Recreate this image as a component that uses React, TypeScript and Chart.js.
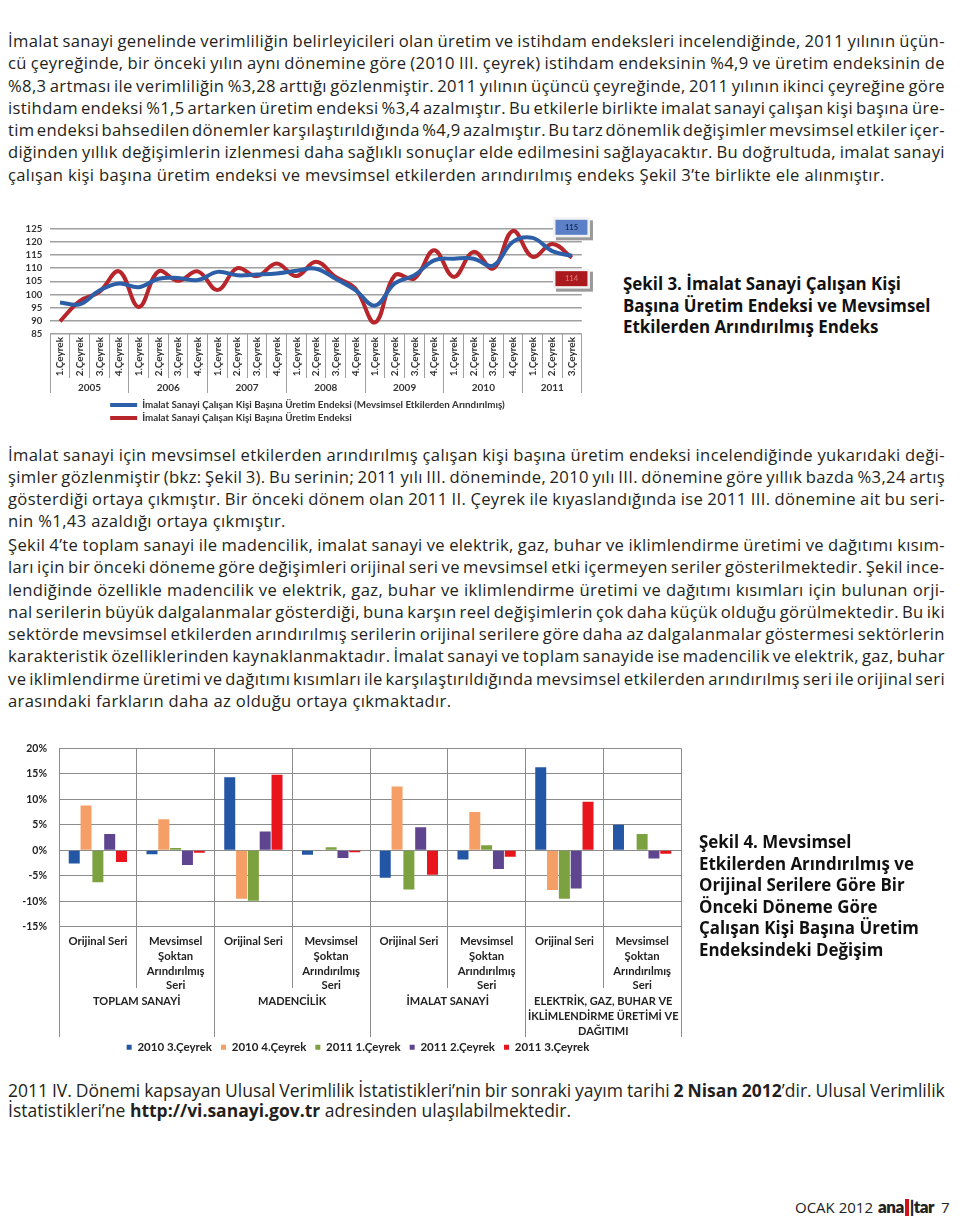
import React, { useEffect, useRef } from "react";
import { Chart, registerables } from "chart.js";
Chart.register(...registerables);

const FONT = "Lato, 'Noto Sans', sans-serif";
const BODY_FONT = "'Open Sans', 'Noto Sans', sans-serif";
const TEXT = "#231f20";

// ---------- Chart 1 data (Şekil 3) ----------
const years1 = ["2005", "2006", "2007", "2008", "2009", "2010", "2011"];
const quarterNames = ["1.Çeyrek", "2.Çeyrek", "3.Çeyrek", "4.Çeyrek"];
const quartersPerYear = [4, 4, 4, 4, 4, 4, 3];
const xLabels1 = years1.flatMap((_, i) => quarterNames.slice(0, quartersPerYear[i]));
const seasonallyAdjusted = [
  97, 96.3, 101.5, 104.2,
  102.8, 106, 106.3, 105.5,
  108.6, 107.3, 107.6, 108,
  109, 109.8, 106, 101.7,
  95.8, 104.2, 107.3, 113,
  113.6, 113.6, 111, 120,
  121.5, 116.5, 114.7,
];
const rawIndex = [
  89.8, 97.5, 101, 108.8,
  95.3, 108.8, 105.2, 108.8,
  101.7, 110, 107, 111.8,
  107, 112.4, 106.7, 102.3,
  89.4, 107.3, 106.1, 116.8,
  106.7, 116.2, 109.9, 124.2,
  114.3, 119.2, 114,
];
const legend1 = [
  "İmalat Sanayi Çalışan Kişi Başına Üretim Endeksi (Mevsimsel Etkilerden Arındırılmış)",
  "İmalat Sanayi Çalışan Kişi Başına Üretim Endeksi",
];
const colors1 = ["#2c5fa8", "#b8252a"];

// ---------- Chart 2 data (Şekil 4) ----------
const categories2 = [
  ["Orijinal Seri"], ["Mevsimsel", "Şoktan", "Arındırılmış", "Seri"],
  ["Orijinal Seri"], ["Mevsimsel", "Şoktan", "Arındırılmış", "Seri"],
  ["Orijinal Seri"], ["Mevsimsel", "Şoktan", "Arındırılmış", "Seri"],
  ["Orijinal Seri"], ["Mevsimsel", "Şoktan", "Arındırılmış", "Seri"],
];
const groups2 = [
  ["TOPLAM SANAYİ"],
  ["MADENCİLİK"],
  ["İMALAT SANAYİ"],
  ["ELEKTRİK, GAZ, BUHAR VE", "İKLİMLENDİRME ÜRETİMİ VE", "DAĞITIMI"],
];
const seriesNames2 = ["2010 3.Çeyrek", "2010 4.Çeyrek", "2011 1.Çeyrek", "2011 2.Çeyrek", "2011 3.Çeyrek"];
const q2010_3 = [-2.6, -0.8, 14.3, -0.9, -5.4, -1.8, 16.3, 5.0];
const q2010_4 = [8.8, 6.1, -9.5, -0.1, 12.5, 7.5, -7.8, 0];
const q2011_1 = [-6.3, 0.45, -9.9, 0.6, -7.7, 1.0, -9.5, 3.2];
const q2011_2 = [3.2, -2.9, 3.7, -1.5, 4.5, -3.7, -7.5, -1.6];
const q2011_3 = [-2.3, -0.5, 14.8, -0.4, -4.8, -1.3, 9.5, -0.7];
const series2 = [q2010_3, q2010_4, q2011_1, q2011_2, q2011_3];
const colors2 = ["#2356a5", "#f59e66", "#7ba23f", "#5f4590", "#e8151d"];

// ---------- Text ----------
const para1 = [
  "İmalat sanayi genelinde verimliliğin belirleyicileri olan üretim ve istihdam endeksleri incelendiğinde, 2011 yılının üçün-",
  "cü çeyreğinde, bir önceki yılın aynı dönemine göre (2010 III. çeyrek) istihdam endeksinin %4,9 ve üretim endeksinin de",
  "%8,3 artması ile verimliliğin %3,28 arttığı gözlenmiştir. 2011 yılının üçüncü çeyreğinde, 2011 yılının ikinci çeyreğine göre",
  "istihdam endeksi %1,5 artarken üretim endeksi %3,4 azalmıştır. Bu etkilerle birlikte imalat sanayi çalışan kişi başına üre-",
  "tim endeksi bahsedilen dönemler karşılaştırıldığında %4,9 azalmıştır. Bu tarz dönemlik değişimler mevsimsel etkiler içer-",
  "diğinden yıllık değişimlerin izlenmesi daha sağlıklı sonuçlar elde edilmesini sağlayacaktır. Bu doğrultuda, imalat sanayi",
  "çalışan kişi başına üretim endeksi ve mevsimsel etkilerden arındırılmış endeks Şekil 3’te birlikte ele alınmıştır.",
];
const para2 = [
  "İmalat sanayi için mevsimsel etkilerden arındırılmış çalışan kişi başına üretim endeksi incelendiğinde yukarıdaki deği-",
  "şimler gözlenmiştir (bkz: Şekil 3). Bu serinin; 2011 yılı III. döneminde, 2010 yılı III. dönemine göre yıllık bazda %3,24 artış",
  "gösterdiği ortaya çıkmıştır. Bir önceki dönem olan 2011 II. Çeyrek ile kıyaslandığında ise 2011 III. dönemine ait bu seri-",
  "nin %1,43 azaldığı ortaya çıkmıştır.",
];
const para3 = [
  "Şekil 4’te toplam sanayi ile madencilik, imalat sanayi ve elektrik, gaz, buhar ve iklimlendirme üretimi ve dağıtımı kısım-",
  "ları için bir önceki döneme göre değişimleri orijinal seri ve mevsimsel etki içermeyen seriler gösterilmektedir. Şekil ince-",
  "lendiğinde özellikle madencilik ve elektrik, gaz, buhar ve iklimlendirme üretimi ve dağıtımı kısımları için bulunan orji-",
  "nal serilerin büyük dalgalanmalar gösterdiği, buna karşın reel değişimlerin çok daha küçük olduğu görülmektedir. Bu iki",
  "sektörde mevsimsel etkilerden arındırılmış serilerin orijinal serilere göre daha az dalgalanmalar göstermesi sektörlerin",
  "karakteristik özelliklerinden kaynaklanmaktadır. İmalat sanayi ve toplam sanayide ise madencilik ve elektrik, gaz, buhar",
  "ve iklimlendirme üretimi ve dağıtımı kısımları ile karşılaştırıldığında mevsimsel etkilerden arındırılmış seri ile orijinal seri",
  "arasındaki farkların daha az olduğu ortaya çıkmaktadır.",
];
const para4 = [
  "2011 IV. Dönemi kapsayan Ulusal Verimlilik İstatistikleri’nin bir sonraki yayım tarihi **2 Nisan 2012**’dir. Ulusal Verimlilik",
  "İstatistikleri’ne **http://vi.sanayi.gov.tr** adresinden ulaşılabilmektedir.",
];
const caption3 = ["Şekil 3. İmalat Sanayi Çalışan Kişi", "Başına Üretim Endeksi ve Mevsimsel", "Etkilerden Arındırılmış Endeks"];
const caption4 = [
  "Şekil 4. Mevsimsel",
  "Etkilerden Arındırılmış ve",
  "Orijinal Serilere Göre Bir",
  "Önceki Döneme Göre",
  "Çalışan Kişi Başına Üretim",
  "Endeksindeki Değişim",
];

type Piece = { t: string; b: boolean };
function toWords(line: string): Piece[][] {
  const words: Piece[][] = [[]];
  line.split("**").forEach((seg, si) => {
    const bold = si % 2 === 1;
    seg.split(" ").forEach((part, pi) => {
      if (pi > 0) words.push([]);
      if (part) words[words.length - 1].push({ t: part, b: bold });
    });
  });
  return words.filter((w) => w.length > 0);
}

function Para({ lines, top, lh, size, left = 8, width = 937, spacing = 0 }: any) {
  return (
    <div style={{ position: "absolute", left, top, width, fontSize: size, lineHeight: lh + "px", color: TEXT, fontFamily: BODY_FONT, letterSpacing: spacing }}>
      {lines.map((ln: string, i: number) => {
        const last = i === lines.length - 1;
        if (last) {
          return (
            <div key={i} style={{ whiteSpace: "pre", height: lh }}>
              {ln.split("**").map((s, k) => (k % 2 === 1 ? <b key={k}>{s}</b> : <span key={k}>{s}</span>))}
            </div>
          );
        }
        const words = toWords(ln);
        return (
          <div key={i} style={{ display: "flex", justifyContent: "space-between", whiteSpace: "pre", height: lh }}>
            {words.map((w, j) => (
              <span key={j}>{w.map((p, k) => (p.b ? <b key={k}>{p.t}</b> : <span key={k}>{p.t}</span>))}</span>
            ))}
          </div>
        );
      })}
    </div>
  );
}

function alignPx(p: number) {
  return Math.round(p - 0.5) + 0.5;
}

function LineChart() {
  const ref = useRef<HTMLCanvasElement>(null);
  useEffect(() => {
    const decor = {
      id: "decor1",
      afterDraw(chart: any) {
        const { ctx, chartArea } = chart;
        const x = chart.scales.x;
        const y = chart.scales.y;
        const n = xLabels1.length;
        const half = (x.getPixelForValue(1) - x.getPixelForValue(0)) / 2;
        const yearStarts: number[] = [];
        let idx = 0;
        quartersPerYear.forEach((q) => {
          yearStarts.push(idx);
          idx += q;
        });
        ctx.save();
        ctx.strokeStyle = "#a0a0a0";
        ctx.lineWidth = 1;
        for (let i = 0; i <= n; i++) {
          const px = i < n ? x.getPixelForValue(i) - half : x.getPixelForValue(n - 1) + half;
          const long = yearStarts.includes(i) || i === n;
          ctx.beginPath();
          ctx.moveTo(alignPx(px), chartArea.bottom);
          ctx.lineTo(alignPx(px), chartArea.bottom + (long ? 59 : 44));
          ctx.stroke();
        }
        ctx.fillStyle = "#333";
        ctx.font = `bold 10px ${FONT}`;
        ctx.textAlign = "center";
        ctx.textBaseline = "middle";
        years1.forEach((yr, k) => {
          const s = yearStarts[k];
          const e = s + quartersPerYear[k] - 1;
          const cx = (x.getPixelForValue(s) + x.getPixelForValue(e)) / 2;
          ctx.fillText(yr, cx, chartArea.bottom + 54);
        });
        // legend
        const lx = chartArea.left + 60;
        [0, 1].forEach((k) => {
          const ly = chartArea.bottom + 71 + k * 13;
          ctx.strokeStyle = colors1[k];
          ctx.lineWidth = 4;
          ctx.beginPath();
          ctx.moveTo(lx, ly);
          ctx.lineTo(lx + 27, ly);
          ctx.stroke();
          ctx.fillStyle = "#333";
          ctx.textAlign = "left";
          ctx.font = `bold 9.8px ${FONT}`;
          ctx.fillText(legend1[k], lx + 32, ly);
        });
        // value boxes at last point
        const last = n - 1;
        const bx = x.getPixelForValue(last);
        const boxes = [
          { v: seasonallyAdjusted[last], dy: -28.5, fill: "#5b80c8", tc: "#1c2c5c" },
          { v: rawIndex[last], dy: 21, fill: "#aa1a1d", tc: "#d86a6a" },
        ];
        boxes.forEach((b) => {
          const cy = y.getPixelForValue(b.v) + b.dy;
          const w = 37;
          const h = 20;
          const x0 = bx - 19;
          const y0 = cy - h / 2;
          ctx.fillStyle = "#9a9a9a";
          ctx.fillRect(x0 + 3, y0 + 3, w, h);
          ctx.fillStyle = "#f2f2f2";
          ctx.fillRect(x0, y0, w, h);
          ctx.fillStyle = b.fill;
          ctx.fillRect(x0 + 2.5, y0 + 2.5, w - 5, h - 5);
          ctx.fillStyle = b.tc;
          ctx.font = `bold 7.5px ${FONT}`;
          ctx.textAlign = "center";
          ctx.fillText(String(Math.round(b.v)), x0 + w / 2, cy);
        });
        ctx.restore();
      },
    };
    const chart = new Chart(ref.current as HTMLCanvasElement, {
      type: "line",
      data: {
        labels: xLabels1,
        datasets: [
          { label: legend1[0], data: seasonallyAdjusted, borderColor: colors1[0], borderWidth: 4, tension: 0.4, pointRadius: 0, fill: false },
          { label: legend1[1], data: rawIndex, borderColor: colors1[1], borderWidth: 4, tension: 0.4, pointRadius: 0, fill: false },
        ],
      },
      options: {
        responsive: false,
        animation: false,
        layout: { padding: { top: 13.3, right: 28.2, left: 0, bottom: 0 } },
        plugins: { legend: { display: false }, tooltip: { enabled: false } },
        scales: {
          x: {
            offset: true,
            grid: { display: false, drawTicks: false },
            border: { display: false },
            ticks: {
              autoSkip: false,
              minRotation: 90,
              maxRotation: 90,
              padding: 3,
              color: "#333",
              font: { family: FONT, size: 10, weight: "bold" },
            },
            afterFit: (s: any) => {
              s.height = 96;
            },
          },
          y: {
            min: 85,
            max: 125,
            ticks: { stepSize: 5, autoSkip: false, padding: 8, color: "#333", font: { family: FONT, size: 9.5, weight: "bold" } },
            grid: { color: "#a0a0a0", lineWidth: 1.5, drawTicks: false },
            border: { display: false },
            afterFit: (s: any) => {
              s.width = 30.15;
            },
          },
        },
      } as any,
      plugins: [decor],
    });
    return () => chart.destroy();
  }, []);
  return (
    <canvas ref={ref} width={590} height={215} style={{ position: "absolute", left: 20, top: 215, width: 590, height: 215 }} />
  );
}

function BarChart() {
  const ref = useRef<HTMLCanvasElement>(null);
  useEffect(() => {
    const decor = {
      id: "decor2",
      afterDraw(chart: any) {
        const { ctx, chartArea } = chart;
        const x = chart.scales.x;
        const n = categories2.length;
        const half = (x.getPixelForValue(1) - x.getPixelForValue(0)) / 2;
        ctx.save();
        ctx.strokeStyle = "#8c8c8c";
        ctx.lineWidth = 1;
        for (let i = 0; i <= n; i++) {
          const px = i < n ? x.getPixelForValue(i) - half : x.getPixelForValue(n - 1) + half;
          const len = i % 2 === 0 ? 110.3 : 61.3;
          ctx.beginPath();
          ctx.moveTo(alignPx(px), chartArea.bottom);
          ctx.lineTo(alignPx(px), chartArea.bottom + len);
          ctx.stroke();
        }
        ctx.fillStyle = "#222";
        ctx.font = `bold 11px ${FONT}`;
        ctx.textAlign = "center";
        ctx.textBaseline = "middle";
        groups2.forEach((lines, g) => {
          const cx = (x.getPixelForValue(2 * g) + x.getPixelForValue(2 * g + 1)) / 2;
          lines.forEach((t, k) => ctx.fillText(t, cx, chartArea.bottom + 75 + k * 14.7));
        });
        ctx.restore();
      },
    };
    const chart = new Chart(ref.current as HTMLCanvasElement, {
      type: "bar",
      data: {
        labels: categories2,
        datasets: series2.map((d, i) => ({
          label: seriesNames2[i],
          data: d,
          backgroundColor: colors2[i],
          borderWidth: 0,
          categoryPercentage: 0.76,
          barPercentage: 0.93,
        })),
      },
      options: {
        responsive: false,
        animation: false,
        layout: { padding: { top: 14, right: 14, left: 0, bottom: 0 } },
        plugins: {
          tooltip: { enabled: false },
          legend: {
            position: "bottom",
            labels: { boxWidth: 5, boxHeight: 5, padding: 9, color: "#222", font: { family: FONT, size: 11.5, weight: "bold" } },
          },
        },
        scales: {
          x: {
            grid: { offset: true, color: "#8c8c8c", lineWidth: 1, drawTicks: false },
            border: { color: "#8c8c8c" },
            ticks: {
              autoSkip: false,
              minRotation: 0,
              maxRotation: 0,
              padding: 7.6,
              color: "#222",
              font: { family: FONT, size: 11.3, weight: "bold", lineHeight: 1.3 },
            },
            afterFit: (s: any) => {
              s.height = 105.8;
            },
          },
          y: {
            min: -15,
            max: 20,
            ticks: {
              stepSize: 5,
              autoSkip: false,
              padding: 12,
              color: "#222",
              font: { family: FONT, size: 10.5, weight: "bold" },
              callback: (v: any) => v + "%",
            },
            grid: { color: "#8c8c8c", drawTicks: false },
            border: { color: "#8c8c8c" },
            afterFit: (s: any) => {
              s.width = 44;
            },
          },
          ySpacer: {
            type: "linear",
            position: "right",
            display: true,
            grid: { display: false, drawTicks: false },
            border: { display: false },
            ticks: { display: false },
            afterFit: (s: any) => {
              s.width = 20;
            },
          },
        },
      } as any,
      plugins: [decor],
    });
    return () => chart.destroy();
  }, []);
  return (
    <canvas ref={ref} width={700} height={333} style={{ position: "absolute", left: 15, top: 730, width: 700, height: 333 }} />
  );
}

function Caption({ lines, left, top }: any) {
  return (
    <div style={{ position: "absolute", left, top, fontSize: 16.9, fontWeight: 700, lineHeight: "21.5px", color: "#111", whiteSpace: "pre", fontFamily: BODY_FONT }}>
      {lines.map((l: string, i: number) => (
        <div key={i}>{l}</div>
      ))}
    </div>
  );
}

export default function App() {
  return (
    <div style={{ position: "absolute", left: 0, top: 0, width: 960, height: 1223, background: "#fff", fontFamily: BODY_FONT, overflow: "hidden" }}>
      <Para lines={para1} top={30} lh={22.3} size={16.6} spacing={0.35} />
      <LineChart />
      <Caption lines={caption3} left={623} top={273} />
      <Para lines={para2} top={444} lh={22.1} size={16.6} spacing={0.35} />
      <Para lines={para3} top={534} lh={22.3} size={16.6} spacing={0.35} />
      <BarChart />
      <Caption lines={caption4} left={699} top={831} />
      <Para lines={para4} top={1080} lh={20} size={17.5} />
      <div style={{ position: "absolute", left: 795, top: 1196, fontSize: 15, lineHeight: "22px", color: "#222", whiteSpace: "pre", display: "flex", alignItems: "center" }}>
        <span>OCAK 2012 </span>
        <span style={{ fontWeight: 800, fontSize: 17, letterSpacing: -0.5, marginLeft: 1, fontFamily: FONT }}>ana</span>
        <span style={{ display: "inline-block", width: 4, height: 17, background: "#d0121b", margin: "0 1px" }} />
        <span style={{ fontWeight: 800, fontSize: 17, letterSpacing: -0.5, fontFamily: FONT }}>|tar</span>
        <span style={{ marginLeft: 7 }}>7</span>
      </div>
    </div>
  );
}
